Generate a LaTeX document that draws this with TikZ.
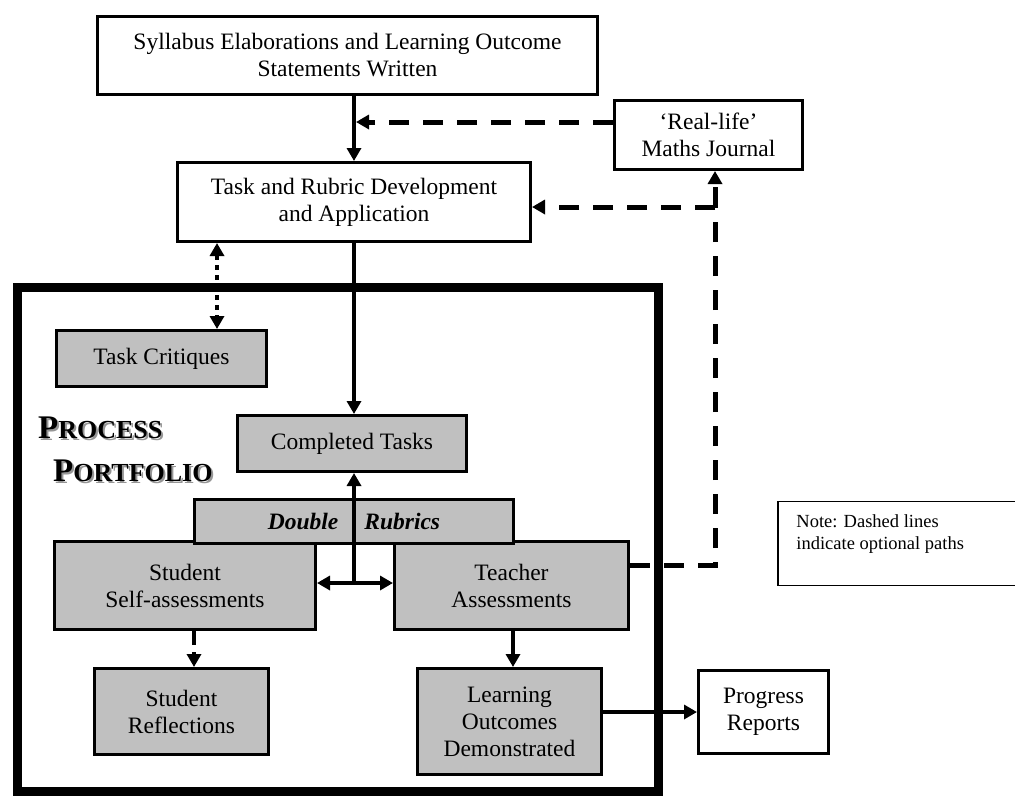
\documentclass[tikz,border=0pt]{standalone}
\usepackage{fontspec}
\setmainfont{Liberation Serif}
\usetikzlibrary{positioning,arrows.meta}

\definecolor{boxgrey}{RGB}{192,192,192}
\definecolor{shadowgrey}{RGB}{150,150,150}
\newcommand{\capword}[2]{{\fontsize{33}{36}\selectfont #1}{\fontsize{26}{28}\selectfont #2}}

\begin{document}
\begin{tikzpicture}[x=1pt,y=-1pt,
    box/.style={rectangle,draw,line width=3pt,inner sep=0pt,align=center,
      font=\fontsize{23.5}{27}\selectfont},
    greybox/.style={box,fill=boxgrey},
    flow/.style={line width=4pt,-{Triangle[length=13pt,width=14pt]}},
    optional/.style={line width=5pt,dash pattern=on 20pt off 14pt},
    optflow/.style={optional,-{Triangle[length=13pt,width=14pt]}},
    critflow/.style={line width=4pt,dash pattern=on 5pt off 5pt,
      {Triangle[length=13pt,width=14pt]}-{Triangle[length=13pt,width=14pt]}},
    title/.style={anchor=west,inner sep=0pt,font=\bfseries}]
    \useasboundingbox (0,0) rectangle (1015,796);

    % portfolio frame
    \node[draw,line width=9pt,minimum width=641pt,minimum height=504pt] (portfolio) at (337.5,539) {};

    \node[box,minimum width=500pt,minimum height=78pt] (syllabus) at (347.5,55.5)
      {Syllabus Elaborations and Learning Outcome\\Statements Written};
    \node[box,minimum width=353pt,minimum height=79pt] (task) at (354,202)
      {Task and Rubric Development\\and Application};
    \node[box,minimum width=188pt,minimum height=69pt] (journal) at (708.5,135)
      {`Real-life'\\Maths Journal};

    \node[greybox,minimum width=210pt,minimum height=56pt] (critique) at (161.5,358.5) {Task Critiques};
    \node[greybox,minimum width=229pt,minimum height=56pt] (done) at (352,443.5) {Completed Tasks};
    \node[greybox,minimum width=261pt,minimum height=88pt] (self) at (185,585.5) {Student\\Self-assessments};
    \node[greybox,minimum width=234pt,minimum height=88pt] (teacher) at (511.5,585.5) {Teacher\\Assessments};
    \node[greybox,minimum width=319pt,minimum height=44pt,font=\fontsize{23.5}{27}\selectfont\bfseries\itshape]
      (rubric) at (354,521.5) {Double\hspace{26pt}Rubrics};
    \node[greybox,minimum width=174pt,minimum height=86pt] (reflect) at (181.5,711.5) {Student\\Reflections};
    \node[greybox,minimum width=184pt,minimum height=106pt] (outcome) at (509.5,721.5) {Learning\\Outcomes\\Demonstrated};
    \node[box,minimum width=130pt,minimum height=83pt] (report) at (763.5,712) {Progress\\Reports};

    % note
    \node[draw,line width=1.5pt,minimum width=240pt,minimum height=84pt] (note) at (898,543.5) {};
    \node[anchor=north west,inner sep=0pt,align=left,font=\fontsize{18.5}{22}\selectfont,
      below right=14pt and 19pt of note.north west] (notetext)
      {Note: Dashed lines\\indicate optional paths};

    % title with shadow
    \node[title,text=shadowgrey] (shadow1) at (40,430) {\capword{P}{ROCESS}};
    \node[title,text=shadowgrey] (shadow2) at (55,473) {\capword{P}{ORTFOLIO}};
    \node[title] (process) at (38,428) {\capword{P}{ROCESS}};
    \node[title] (folio) at (53,471) {\capword{P}{ORTFOLIO}};

    \coordinate (meet) at (354,122);
    \coordinate (turn) at (715,565);
    \coordinate (fork) at (715,207);
    \coordinate (hub) at (354,583);

    % connectors
    \draw[flow] (task.north |- syllabus.south) -- (task.north);
    \draw[optflow] (journal.west |- meet) -- ([xshift=2pt]meet);
    \draw[optional] (teacher.east |- turn) -- (turn) -- (fork);
    \draw[optflow] (fork) -- (fork |- journal.south);
    \draw[optflow] (fork) -- (task.east |- fork);
    \draw[critflow] (217,0 |- task.south) -- (217,0 |- critique.north);
    \draw[flow] (task.south) -- (task.south |- done.north);
    \draw[flow] (hub) -- (hub |- done.south);
    \draw[flow,{Triangle[length=13pt,width=14pt]}-{Triangle[length=13pt,width=14pt]}]
      (self.east |- hub) -- (teacher.west |- hub);
    \draw[line width=4pt,dash pattern=on 14pt off 7pt,-{Triangle[length=13pt,width=14pt]}]
      (194,0 |- self.south) -- (194,0 |- reflect.north);
    \draw[flow] (513,0 |- teacher.south) -- (513,0 |- outcome.north);
    \draw[flow] (outcome.east |- report.west) -- (report.west);
\end{tikzpicture}
\end{document}
